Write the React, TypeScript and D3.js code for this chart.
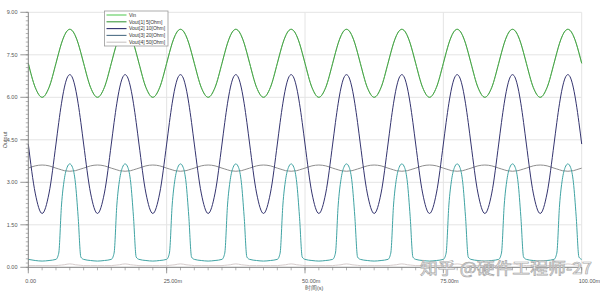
import React from "react";
import * as d3 from "d3";

// sample times (ms)
const timesMs = [
  0, 1.25, 2.5, 3.75, 5, 5.5, 6, 6.5, 7, 7.5, 8, 8.5, 9, 9.5,
  10, 11.25, 12.5, 13.75, 15, 15.5, 16, 16.5, 17, 17.5, 18, 18.5, 19, 19.5,
  20, 21.25, 22.5, 23.75, 25, 25.5, 26, 26.5, 27, 27.5, 28, 28.5, 29, 29.5,
  30, 31.25, 32.5, 33.75, 35, 35.5, 36, 36.5, 37, 37.5, 38, 38.5, 39, 39.5,
  40, 41.25, 42.5, 43.75, 45, 45.5, 46, 46.5, 47, 47.5, 48, 48.5, 49, 49.5,
  50, 51.25, 52.5, 53.75, 55, 55.5, 56, 56.5, 57, 57.5, 58, 58.5, 59, 59.5,
  60, 61.25, 62.5, 63.75, 65, 65.5, 66, 66.5, 67, 67.5, 68, 68.5, 69, 69.5,
  70, 71.25, 72.5, 73.75, 75, 75.5, 76, 76.5, 77, 77.5, 78, 78.5, 79, 79.5,
  80, 81.25, 82.5, 83.75, 85, 85.5, 86, 86.5, 87, 87.5, 88, 88.5, 89, 89.5,
  90, 91.25, 92.5, 93.75, 95, 95.5, 96, 96.5, 97, 97.5, 98, 98.5, 99, 99.5,
  100,
];

const vout1Values = [
  7.2, 6.35, 6.0, 6.35, 7.2, 7.57, 7.91, 8.17, 8.34, 8.4, 8.34, 8.17, 7.91, 7.57,
  7.2, 6.35, 6.0, 6.35, 7.2, 7.57, 7.91, 8.17, 8.34, 8.4, 8.34, 8.17, 7.91, 7.57,
  7.2, 6.35, 6.0, 6.35, 7.2, 7.57, 7.91, 8.17, 8.34, 8.4, 8.34, 8.17, 7.91, 7.57,
  7.2, 6.35, 6.0, 6.35, 7.2, 7.57, 7.91, 8.17, 8.34, 8.4, 8.34, 8.17, 7.91, 7.57,
  7.2, 6.35, 6.0, 6.35, 7.2, 7.57, 7.91, 8.17, 8.34, 8.4, 8.34, 8.17, 7.91, 7.57,
  7.2, 6.35, 6.0, 6.35, 7.2, 7.57, 7.91, 8.17, 8.34, 8.4, 8.34, 8.17, 7.91, 7.57,
  7.2, 6.35, 6.0, 6.35, 7.2, 7.57, 7.91, 8.17, 8.34, 8.4, 8.34, 8.17, 7.91, 7.57,
  7.2, 6.35, 6.0, 6.35, 7.2, 7.57, 7.91, 8.17, 8.34, 8.4, 8.34, 8.17, 7.91, 7.57,
  7.2, 6.35, 6.0, 6.35, 7.2, 7.57, 7.91, 8.17, 8.34, 8.4, 8.34, 8.17, 7.91, 7.57,
  7.2, 6.35, 6.0, 6.35, 7.2, 7.57, 7.91, 8.17, 8.34, 8.4, 8.34, 8.17, 7.91, 7.57,
  7.2,
];

const vinValues = vout1Values;

const vout2Values = [
  4.35, 2.62, 1.9, 2.62, 4.35, 5.11, 5.79, 6.33, 6.68, 6.8, 6.68, 6.33, 5.79, 5.11,
  4.35, 2.62, 1.9, 2.62, 4.35, 5.11, 5.79, 6.33, 6.68, 6.8, 6.68, 6.33, 5.79, 5.11,
  4.35, 2.62, 1.9, 2.62, 4.35, 5.11, 5.79, 6.33, 6.68, 6.8, 6.68, 6.33, 5.79, 5.11,
  4.35, 2.62, 1.9, 2.62, 4.35, 5.11, 5.79, 6.33, 6.68, 6.8, 6.68, 6.33, 5.79, 5.11,
  4.35, 2.62, 1.9, 2.62, 4.35, 5.11, 5.79, 6.33, 6.68, 6.8, 6.68, 6.33, 5.79, 5.11,
  4.35, 2.62, 1.9, 2.62, 4.35, 5.11, 5.79, 6.33, 6.68, 6.8, 6.68, 6.33, 5.79, 5.11,
  4.35, 2.62, 1.9, 2.62, 4.35, 5.11, 5.79, 6.33, 6.68, 6.8, 6.68, 6.33, 5.79, 5.11,
  4.35, 2.62, 1.9, 2.62, 4.35, 5.11, 5.79, 6.33, 6.68, 6.8, 6.68, 6.33, 5.79, 5.11,
  4.35, 2.62, 1.9, 2.62, 4.35, 5.11, 5.79, 6.33, 6.68, 6.8, 6.68, 6.33, 5.79, 5.11,
  4.35, 2.62, 1.9, 2.62, 4.35, 5.11, 5.79, 6.33, 6.68, 6.8, 6.68, 6.33, 5.79, 5.11,
  4.35,
];

const vout3Values = [
  0.28, 0.24, 0.22, 0.24, 0.28, 0.5, 2.2, 3.1, 3.52, 3.65, 3.52, 3.0, 1.8, 0.36,
  0.28, 0.24, 0.22, 0.24, 0.28, 0.5, 2.2, 3.1, 3.52, 3.65, 3.52, 3.0, 1.8, 0.36,
  0.28, 0.24, 0.22, 0.24, 0.28, 0.5, 2.2, 3.1, 3.52, 3.65, 3.52, 3.0, 1.8, 0.36,
  0.28, 0.24, 0.22, 0.24, 0.28, 0.5, 2.2, 3.1, 3.52, 3.65, 3.52, 3.0, 1.8, 0.36,
  0.28, 0.24, 0.22, 0.24, 0.28, 0.5, 2.2, 3.1, 3.52, 3.65, 3.52, 3.0, 1.8, 0.36,
  0.28, 0.24, 0.22, 0.24, 0.28, 0.5, 2.2, 3.1, 3.52, 3.65, 3.52, 3.0, 1.8, 0.36,
  0.28, 0.24, 0.22, 0.24, 0.28, 0.5, 2.2, 3.1, 3.52, 3.65, 3.52, 3.0, 1.8, 0.36,
  0.28, 0.24, 0.22, 0.24, 0.28, 0.5, 2.2, 3.1, 3.52, 3.65, 3.52, 3.0, 1.8, 0.36,
  0.28, 0.24, 0.22, 0.24, 0.28, 0.5, 2.2, 3.1, 3.52, 3.65, 3.52, 3.0, 1.8, 0.36,
  0.28, 0.24, 0.22, 0.24, 0.28, 0.5, 2.2, 3.1, 3.52, 3.65, 3.52, 3.0, 1.8, 0.36,
  0.28,
];

const vout4Values = [
  3.5, 3.58, 3.61, 3.58, 3.5, 3.47, 3.44, 3.41, 3.4, 3.39, 3.4, 3.41, 3.44, 3.47,
  3.5, 3.58, 3.61, 3.58, 3.5, 3.47, 3.44, 3.41, 3.4, 3.39, 3.4, 3.41, 3.44, 3.47,
  3.5, 3.58, 3.61, 3.58, 3.5, 3.47, 3.44, 3.41, 3.4, 3.39, 3.4, 3.41, 3.44, 3.47,
  3.5, 3.58, 3.61, 3.58, 3.5, 3.47, 3.44, 3.41, 3.4, 3.39, 3.4, 3.41, 3.44, 3.47,
  3.5, 3.58, 3.61, 3.58, 3.5, 3.47, 3.44, 3.41, 3.4, 3.39, 3.4, 3.41, 3.44, 3.47,
  3.5, 3.58, 3.61, 3.58, 3.5, 3.47, 3.44, 3.41, 3.4, 3.39, 3.4, 3.41, 3.44, 3.47,
  3.5, 3.58, 3.61, 3.58, 3.5, 3.47, 3.44, 3.41, 3.4, 3.39, 3.4, 3.41, 3.44, 3.47,
  3.5, 3.58, 3.61, 3.58, 3.5, 3.47, 3.44, 3.41, 3.4, 3.39, 3.4, 3.41, 3.44, 3.47,
  3.5, 3.58, 3.61, 3.58, 3.5, 3.47, 3.44, 3.41, 3.4, 3.39, 3.4, 3.41, 3.44, 3.47,
  3.5, 3.58, 3.61, 3.58, 3.5, 3.47, 3.44, 3.41, 3.4, 3.39, 3.4, 3.41, 3.44, 3.47,
  3.5,
];

const baseValues = [
  0.06, 0.06, 0.06, 0.06, 0.06, 0.07, 0.08, 0.09, 0.11, 0.12, 0.11, 0.09, 0.08, 0.07,
  0.06, 0.06, 0.06, 0.06, 0.06, 0.07, 0.08, 0.09, 0.11, 0.12, 0.11, 0.09, 0.08, 0.07,
  0.06, 0.06, 0.06, 0.06, 0.06, 0.07, 0.08, 0.09, 0.11, 0.12, 0.11, 0.09, 0.08, 0.07,
  0.06, 0.06, 0.06, 0.06, 0.06, 0.07, 0.08, 0.09, 0.11, 0.12, 0.11, 0.09, 0.08, 0.07,
  0.06, 0.06, 0.06, 0.06, 0.06, 0.07, 0.08, 0.09, 0.11, 0.12, 0.11, 0.09, 0.08, 0.07,
  0.06, 0.06, 0.06, 0.06, 0.06, 0.07, 0.08, 0.09, 0.11, 0.12, 0.11, 0.09, 0.08, 0.07,
  0.06, 0.06, 0.06, 0.06, 0.06, 0.07, 0.08, 0.09, 0.11, 0.12, 0.11, 0.09, 0.08, 0.07,
  0.06, 0.06, 0.06, 0.06, 0.06, 0.07, 0.08, 0.09, 0.11, 0.12, 0.11, 0.09, 0.08, 0.07,
  0.06, 0.06, 0.06, 0.06, 0.06, 0.07, 0.08, 0.09, 0.11, 0.12, 0.11, 0.09, 0.08, 0.07,
  0.06, 0.06, 0.06, 0.06, 0.06, 0.07, 0.08, 0.09, 0.11, 0.12, 0.11, 0.09, 0.08, 0.07,
  0.06,
];

const legendNames = ["Vin", "Vout[1]  5[Ohm]", "Vout[2]  10[Ohm]", "Vout[3]  20[Ohm]", "Vout[4]  50[Ohm]"];
const legendColors = ["#8fdc8f", "#3f9a3f", "#2f2f6e", "#4e6f86", "#c9c4c4"];

const xTickValues = [0, 25, 50, 75, 100];
const xTickLabels = ["0.00", "25.00m", "50.00m", "75.00m", "100.00m"];
const yTickValues = [0, 1.5, 3, 4.5, 6, 7.5, 9];
const yTickLabels = ["0.00", "1.50", "3.00", "4.50", "6.00", "7.50", "9.00"];

const W = 600;
const H = 294;

export default function App() {
  const x = d3.scaleLinear().domain([0, 100]).range([28.3, 581.7]);
  const y = d3.scaleLinear().domain([0, 9]).range([267.3, 12.3]);

  const line = (vals: number[]) =>
    d3
      .line<number>()
      .x((_, i) => x(timesMs[i]))
      .y((d) => y(d))
      .curve(d3.curveMonotoneX)(vals) as string;

  const series = [
    { vals: baseValues, color: "#d6cccc" },
    { vals: vinValues, color: "#8fdc8f" },
    { vals: vout1Values, color: "#48a048" },
    { vals: vout4Values, color: "#8e8e8e" },
    { vals: vout2Values, color: "#34346f" },
    { vals: vout3Values, color: "#3fa3a3" },
  ];

  const xMinor = d3.range(0, 100.001, 2.5);
  const yMinor = d3.range(0, 9.0001, 0.15);
  const font = "'Liberation Sans', Arial, sans-serif";
  const x0 = x(0);
  const y0 = y(0);

  return (
    <svg
      width={W}
      height={H}
      style={{ position: "absolute", left: 0, top: 0, background: "#fff" }}
      fontFamily={font}
    >
      <rect x={0} y={0} width={W} height={H} fill="#fff" />
      {/* grid */}
      {yTickValues.slice(1).map((v) => (
        <line key={"gy" + v} x1={x0} x2={x(100)} y1={y(v)} y2={y(v)} stroke="#e4e4e4" strokeWidth={1} />
      ))}
      {xTickValues.slice(1).map((v) => (
        <line key={"gx" + v} x1={x(v)} x2={x(v)} y1={y(9)} y2={y0} stroke="#e4e4e4" strokeWidth={1} />
      ))}
      {/* series */}
      {series.map((s, i) => (
        <path key={"s" + i} d={line(s.vals)} fill="none" stroke={s.color} strokeWidth={1} />
      ))}
      {/* axes */}
      <line x1={x0} x2={x0} y1={y(9)} y2={y0} stroke="#808080" strokeWidth={1} />
      <line x1={x0} x2={x(100)} y1={y0} y2={y0} stroke="#808080" strokeWidth={1} />
      {yMinor.map((v, i) => (
        <line key={"ym" + i} x1={x0 - 2.5} x2={x0} y1={y(v)} y2={y(v)} stroke="#808080" strokeWidth={0.6} />
      ))}
      {yTickValues.map((v) => (
        <line key={"yt" + v} x1={x0 - 8} x2={x0} y1={y(v)} y2={y(v)} stroke="#808080" strokeWidth={0.8} />
      ))}
      {xMinor.map((v, i) => (
        <line key={"xm" + i} x1={x(v)} x2={x(v)} y1={y0} y2={y0 + 3} stroke="#808080" strokeWidth={0.6} />
      ))}
      {xTickValues.map((v) => (
        <line key={"xt" + v} x1={x(v)} x2={x(v)} y1={y0} y2={y0 + 6} stroke="#808080" strokeWidth={0.8} />
      ))}
      {yTickValues.map((v, i) => (
        <text key={"yl" + v} x={17.5} y={y(v) + 1.8} fontSize={5.5} fill="#555" textAnchor="end">
          {yTickLabels[i]}
        </text>
      ))}
      {xTickValues.map((v, i) => (
        <text key={"xl" + v} x={x(v) - 3} y={283} fontSize={5.5} fill="#555" textAnchor="start">
          {xTickLabels[i]}
        </text>
      ))}
      <text x={305} y={289.5} fontSize={5.5} fill="#555" textAnchor="start">
        时间(s)
      </text>
      <text x={0} y={0} fontSize={5.5} fill="#555" textAnchor="middle" transform="translate(7,140) rotate(-90)">
        Output
      </text>
      {/* legend */}
      <rect x={104.5} y={11} width={63.5} height={35} fill="#fff" stroke="#9a9a9a" strokeWidth={0.8} />
      {legendNames.map((n, i) => (
        <g key={"lg" + i}>
          <line x1={106.5} x2={126.5} y1={15 + i * 6.8} y2={15 + i * 6.8} stroke={legendColors[i]} strokeWidth={i === 0 ? 1.6 : 1.1} />
          <text x={129} y={15 + i * 6.8 + 1.8} fontSize={5} fill="#333">
            {n}
          </text>
        </g>
      ))}
      {/* watermark */}
      <text
        x={420}
        y={274}
        fontSize={16}
        fontFamily="'Noto Sans CJK SC', sans-serif"
        fill="#ffffff"
        stroke="#a8a8a8"
        strokeWidth={0.7}
        textLength={172}
        lengthAdjust="spacingAndGlyphs"
      >
        知乎 @硬件工程师-27
      </text>
    </svg>
  );
}
